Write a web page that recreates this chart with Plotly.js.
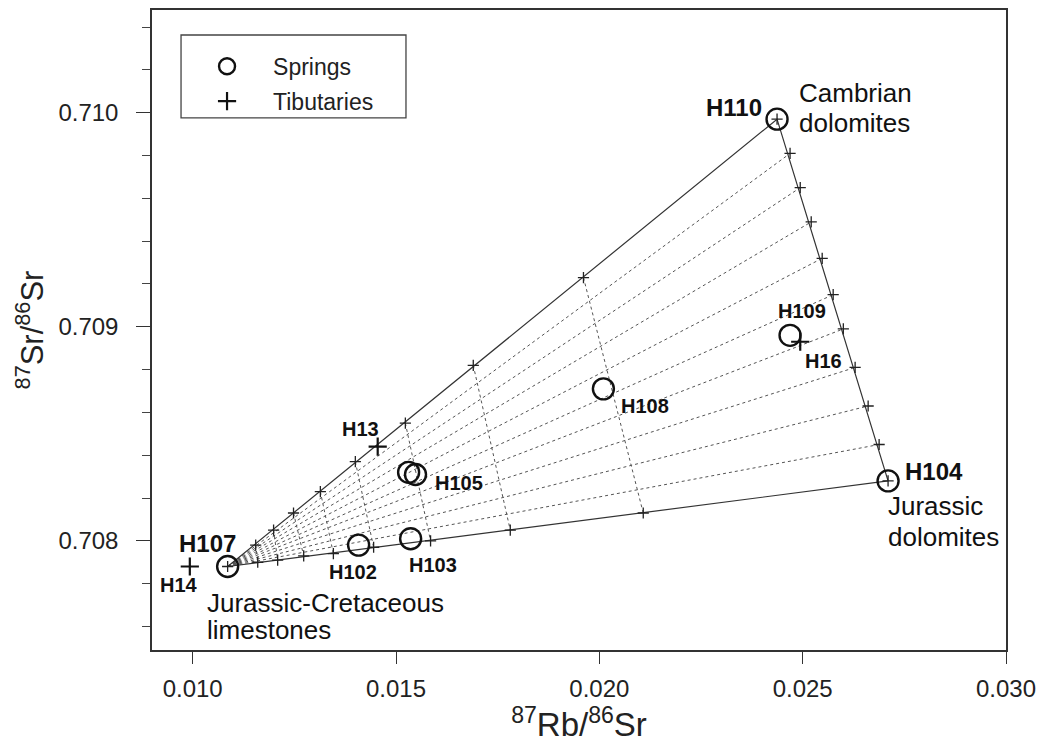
<!DOCTYPE html>
<html>
<head>
<meta charset="utf-8">
<script src="https://cdn.plot.ly/plotly-3.0.1.min.js"></script>
<style>html,body{margin:0;padding:0;background:#fff;}#chart{width:1043px;height:748px;}</style>
</head>
<body>
<div id="chart"></div>
<script>
// ---- Data ----
// End-members of the mixing triangle
const endNames = ["Jurassic-Cretaceous limestones", "Cambrian dolomites", "Jurassic dolomites"];
const endRb = [0.01086, 0.02437, 0.02710];
const endSr = [0.70788, 0.70997, 0.70828];

// Mixing marks along limestone -> Cambrian dolomite edge
const topRb = [0.01155, 0.01199, 0.01248, 0.01314, 0.01400, 0.01523, 0.01690, 0.01961];
const topSr = [0.70798, 0.70805, 0.70813, 0.70823, 0.70837, 0.70855, 0.70882, 0.70923];
// Mixing marks along limestone -> Jurassic dolomite edge
const botRb = [0.01160, 0.01209, 0.01273, 0.01346, 0.01445, 0.01585, 0.01781, 0.02108];
const botSr = [0.70790, 0.70791, 0.70793, 0.70794, 0.70797, 0.70800, 0.70805, 0.70813];
// Mixing marks along Cambrian -> Jurassic dolomite edge
const sideRb = [0.02469, 0.02494, 0.02521, 0.02548, 0.02575, 0.02600, 0.02629, 0.02661, 0.02688];
const sideSr = [0.70981, 0.70965, 0.70949, 0.70932, 0.70915, 0.70899, 0.70881, 0.70863, 0.70845];

// Springs
const springNames = ["H107", "H110", "H104", "H109", "H108", "H105", "H105b", "H102", "H103"];
const springRb = [0.01086, 0.02437, 0.02710, 0.02469, 0.02010, 0.01531, 0.01548, 0.01408, 0.01536];
const springSr = [0.70788, 0.70997, 0.70828, 0.70896, 0.70871, 0.70832, 0.70831, 0.70798, 0.70801];

// Tributaries
const tribNames = ["H14", "H13", "H16"];
const tribRb = [0.00993, 0.01455, 0.02494];
const tribSr = [0.70788, 0.70844, 0.70893];

const xTicks = [0.010, 0.015, 0.020, 0.025, 0.030];
const xTickText = ["0.010", "0.015", "0.020", "0.025", "0.030"];
const yTicks = [0.708, 0.709, 0.710];
const yTickText = ["0.708", "0.709", "0.710"];

// ---- Build traces ----
const FONT = "Liberation Sans, Arial, sans-serif";
const traces = [];
const gridColor = "#555";

// Fan lines: limestone end-member to each mark on the dolomite edge
for (let i = 0; i < sideRb.length; i++) {
  traces.push({
    x: [endRb[0], sideRb[i]], y: [endSr[0], sideSr[i]],
    mode: "lines", line: {color: gridColor, width: 1, dash: "dot"},
    showlegend: false, hoverinfo: "skip"
  });
}
// Cross lines: marks on the upper edge to marks on the lower edge
for (let i = 0; i < topRb.length; i++) {
  traces.push({
    x: [topRb[i], botRb[i]], y: [topSr[i], botSr[i]],
    mode: "lines", line: {color: gridColor, width: 1, dash: "dot"},
    showlegend: false, hoverinfo: "skip"
  });
}
// Triangle edges
traces.push({
  x: [endRb[2], endRb[0], endRb[1], endRb[2]],
  y: [endSr[2], endSr[0], endSr[1], endSr[2]],
  mode: "lines", line: {color: "#333", width: 1.2},
  showlegend: false, hoverinfo: "skip"
});
// Small mixing marks
traces.push({
  x: endRb.concat(topRb, botRb, sideRb),
  y: endSr.concat(topSr, botSr, sideSr),
  mode: "markers",
  marker: {symbol: "cross-thin-open", size: 8, color: "#222", line: {color: "#222", width: 1.3}},
  showlegend: false, hoverinfo: "skip"
});
// Springs
traces.push({
  name: "Springs", legendgroup: "s", x: springRb, y: springSr, text: springNames,
  mode: "markers",
  marker: {symbol: "circle-open", size: 21, color: "#111", line: {color: "#111", width: 2.4}},
  hoverinfo: "text"
});
// Tributaries
traces.push({
  name: "Tibutaries", legendgroup: "t", x: tribRb, y: tribSr, text: tribNames,
  mode: "markers",
  marker: {symbol: "cross-thin-open", size: 13, color: "#111", line: {color: "#111", width: 2.2}},
  hoverinfo: "text"
});

// ---- Annotations (labels anchored to the data points) ----
function lab(txt, x, y, dx, dy, anchor, size, bold) {
  return {
    text: bold ? "<b>" + txt + "</b>" : txt, x: x, y: y, xref: "x", yref: "y",
    showarrow: false, xshift: dx, yshift: dy, xanchor: anchor || "center", yanchor: "middle",
    align: "left",
    font: {family: FONT, size: size, color: "#111"}
  };
}
const annotations = [
  lab("H110", springRb[1], springSr[1], -13, 12, "right", 24, true),
  lab("H104", springRb[2], springSr[2], 15, 9, "left", 24, true),
  lab("H107", springRb[0], springSr[0], -20, 23, "center", 24, true),
  lab("H109", springRb[3], springSr[3], 12, 24, "center", 20, true),
  lab("H108", springRb[4], springSr[4], 42, -17, "center", 20, true),
  lab("H105", springRb[6], springSr[6], 43, -9, "center", 20, true),
  lab("H102", springRb[7], springSr[7], -6, -27, "center", 20, true),
  lab("H103", springRb[8], springSr[8], 22, -26, "center", 20, true),
  lab("H14", tribRb[0], tribSr[0], -11, -18, "center", 20, true),
  lab("H13", tribRb[1], tribSr[1], -17, 18, "center", 20, true),
  lab("H16", tribRb[2], tribSr[2], 23, -19, "center", 20, true),
  lab("Cambrian", endRb[1], endSr[1], 20, 26, "left", 26, false),
  lab("dolomites", endRb[1], endSr[1], 20, -4, "left", 26, false),
  lab("Jurassic", endRb[2], endSr[2], -2, -25, "left", 26, false),
  lab("dolomites", endRb[2], endSr[2], -2, -56, "left", 26, false),
  lab("Jurassic-Cretaceous", endRb[0], endSr[0], -23, -36, "left", 26, false),
  lab("limestones", endRb[0], endSr[0], -23, -63, "left", 26, false)
];

const axisFont = {family: FONT, size: 24, color: "#222"};
const layout = {
  width: 1043, height: 748,
  margin: {l: 152, r: 37, t: 10, b: 98},
  paper_bgcolor: "#fff", plot_bgcolor: "#fff",
  showlegend: true,
  legend: {
    x: 0.034, y: 0.9457, xanchor: "left", yanchor: "top",
    bgcolor: "rgba(0,0,0,0)", borderwidth: 0,
    font: {family: FONT, size: 23, color: "#222"},
    itemwidth: 82, tracegroupgap: 2
  },
  shapes: [{
    type: "rect", xref: "paper", yref: "paper", layer: "below",
    x0: 0.034, x1: 0.2974, y0: 0.8313, y1: 0.9609,
    line: {color: "#444", width: 1.3}, fillcolor: "#fff"
  }],
  xaxis: {
    range: [0.009, 0.030], tickvals: xTicks, ticktext: xTickText,
    ticks: "outside", ticklen: 12, tickwidth: 1.2, tickcolor: "#333",
    ticklabelstandoff: 4,
    showline: true, linecolor: "#333", linewidth: 1.5, mirror: true,
    showgrid: false, zeroline: false,
    tickfont: axisFont,
    title: {text: "<sup>87</sup>Rb/<sup>86</sup>Sr", font: {family: FONT, size: 33, color: "#222"}, standoff: 2}
  },
  yaxis: {
    range: [0.70749, 0.71048], tickvals: yTicks, ticktext: yTickText,
    ticks: "outside", ticklen: 14, tickwidth: 1.2, tickcolor: "#333",
    ticklabelstandoff: 13,
    minor: {dtick: 0.0002, tick0: 0.7076, ticks: "outside", ticklen: 8, tickwidth: 1.2, tickcolor: "#444", showgrid: false},
    showline: true, linecolor: "#333", linewidth: 1.5, mirror: true,
    showgrid: false, zeroline: false,
    tickfont: axisFont,
    title: {text: "<sup>87</sup>Sr/<sup>86</sup>Sr", font: {family: FONT, size: 31, color: "#222"}, standoff: 6}
  },
  annotations: annotations,
  hovermode: "closest"
};

Plotly.newPlot("chart", traces, layout, {displayModeBar: false});
</script>
</body>
</html>
